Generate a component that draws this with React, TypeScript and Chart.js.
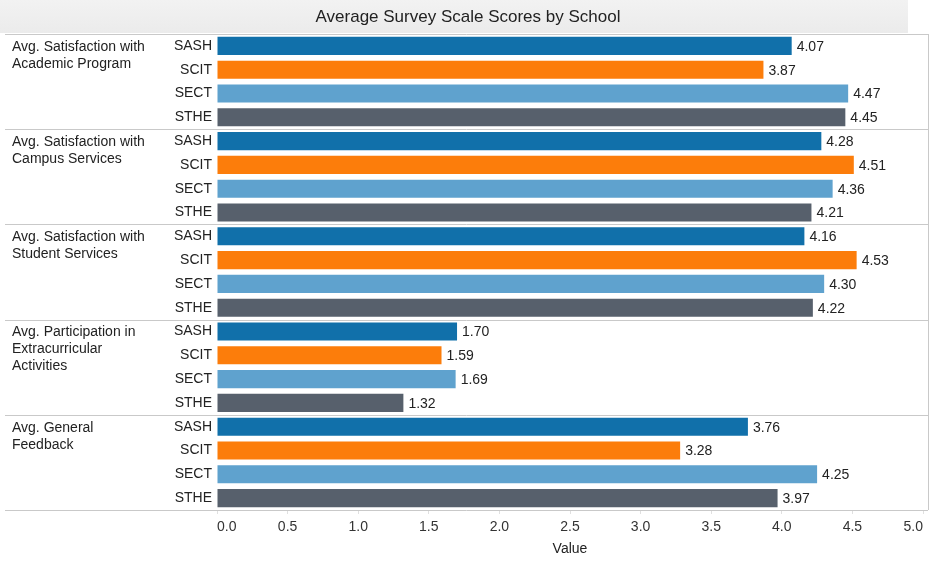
import React, { useEffect, useRef } from 'react';
import { Chart, registerables } from 'chart.js';

Chart.register(...registerables);

const chartTitle = 'Average Survey Scale Scores by School';
const axisTitle = 'Value';
const schools = ['SASH', 'SCIT', 'SECT', 'STHE'];
const schoolColors = ['#1170aa', '#fc7d0b', '#5fa2ce', '#57606c'];
const groupLabels = [
  ['Avg. Satisfaction with', 'Academic Program'],
  ['Avg. Satisfaction with', 'Campus Services'],
  ['Avg. Satisfaction with', 'Student Services'],
  ['Avg. Participation in', 'Extracurricular', 'Activities'],
  ['Avg. General', 'Feedback'],
];
const academicProgram = [4.07, 3.87, 4.47, 4.45];
const campusServices = [4.28, 4.51, 4.36, 4.21];
const studentServices = [4.16, 4.53, 4.3, 4.22];
const extracurricular = [1.7, 1.59, 1.69, 1.32];
const generalFeedback = [3.76, 3.28, 4.25, 3.97];
const xMin = 0;
const xMax = 5;
const xStep = 0.5;

const groupValues = [academicProgram, campusServices, studentServices, extracurricular, generalFeedback];
const FONT = '"Liberation Sans", Arial, Helvetica, sans-serif';

export default function App() {
  const canvasRef = useRef<HTMLCanvasElement | null>(null);

  useEffect(() => {
    document.body.style.margin = '0';
    const canvas = canvasRef.current;
    if (!canvas) return;

    const labels: string[] = [];
    const values: number[] = [];
    const colors: string[] = [];
    groupValues.forEach((arr) => {
      arr.forEach((v, i) => {
        labels.push(schools[i]);
        values.push(v);
        colors.push(schoolColors[i]);
      });
    });

    const decor = {
      id: 'decor',
      beforeDraw(chart: any) {
        const { ctx } = chart;
        ctx.save();
        ctx.fillStyle = '#ffffff';
        ctx.fillRect(0, 0, chart.width, chart.height);
        const grad = ctx.createLinearGradient(0, 0, 0, 33);
        grad.addColorStop(0, '#f2f2f2');
        grad.addColorStop(1, '#ebebeb');
        ctx.fillStyle = grad;
        ctx.fillRect(0, 0, 908, 33);
        ctx.fillStyle = '#222';
        ctx.font = `17px ${FONT}`;
        ctx.textAlign = 'center';
        ctx.textBaseline = 'middle';
        ctx.fillText(chartTitle, 468, 17);
        ctx.restore();
      },
      afterDatasetsDraw(chart: any) {
        const { ctx, chartArea: ca } = chart;
        const yScale = chart.scales.y;
        const meta = chart.getDatasetMeta(0);
        ctx.save();
        // value labels
        ctx.font = `14px ${FONT}`;
        ctx.fillStyle = '#222';
        ctx.textAlign = 'left';
        ctx.textBaseline = 'middle';
        meta.data.forEach((bar: any, i: number) => {
          ctx.fillText(values[i].toFixed(2), bar.x + 5, bar.y + 1);
        });
        // separators
        const per = schools.length;
        const nGroups = groupValues.length;
        ctx.strokeStyle = '#c9c9c9';
        ctx.lineWidth = 1;
        const rightX = ca.right + 5;
        for (let g = 0; g <= nGroups; g++) {
          let y: number;
          if (g === 0) y = ca.top;
          else if (g === nGroups) y = ca.bottom;
          else y = (yScale.getPixelForValue(g * per - 1) + yScale.getPixelForValue(g * per)) / 2;
          y = Math.round(y) + 0.5;
          ctx.beginPath();
          ctx.moveTo(5, y);
          ctx.lineTo(rightX, y);
          ctx.stroke();
        }
        ctx.beginPath();
        ctx.moveTo(rightX + 0.5, ca.top);
        ctx.lineTo(rightX + 0.5, ca.bottom);
        ctx.stroke();
        // group labels
        ctx.fillStyle = '#222';
        ctx.font = `14px ${FONT}`;
        groupLabels.forEach((lines, g) => {
          const y0 = yScale.getPixelForValue(g * per) + 1;
          lines.forEach((line, li) => {
            ctx.fillText(line, 12, y0 + li * 17);
          });
        });
        ctx.restore();
      },
    };

    const chart = new Chart(canvas, {
      type: 'bar',
      data: {
        labels,
        datasets: [
          {
            data: values,
            backgroundColor: colors,
            borderWidth: 0,
            barPercentage: 0.76,
            categoryPercentage: 1,
          },
        ],
      },
      options: {
        indexAxis: 'y',
        responsive: false,
        animation: false,
        layout: { padding: { top: 34, right: 7, left: 0, bottom: 0 } },
        plugins: {
          legend: { display: false },
          title: { display: false },
          tooltip: { enabled: false },
        },
        scales: {
          x: {
            min: xMin,
            max: xMax,
            ticks: {
              stepSize: xStep,
              callback: (v: any) => Number(v).toFixed(1),
              align: 'inner',
              padding: 5,
              color: '#333',
              font: { family: FONT, size: 14 },
            },
            grid: {
              display: true,
              drawOnChartArea: false,
              drawTicks: true,
              tickLength: 4,
              color: '#e0e0e0',
            },
            border: { display: false },
            title: {
              display: true,
              text: axisTitle,
              color: '#222',
              font: { family: FONT, size: 14 },
              padding: { top: 0, bottom: 3 },
            },
            afterFit: (s: any) => {
              s.height = 51;
            },
          },
          y: {
            ticks: {
              color: '#222',
              font: { family: FONT, size: 14 },
              padding: 5,
              autoSkip: false,
            },
            grid: { display: false, drawTicks: false },
            border: { display: false },
            afterFit: (s: any) => {
              s.width = 217;
            },
          },
        },
      } as any,
      plugins: [decor],
    });

    return () => chart.destroy();
  }, []);

  return (
    <div style={{ width: 930, height: 561 }}>
      <canvas ref={canvasRef} width={930} height={561} style={{ display: 'block' }} />
    </div>
  );
}
